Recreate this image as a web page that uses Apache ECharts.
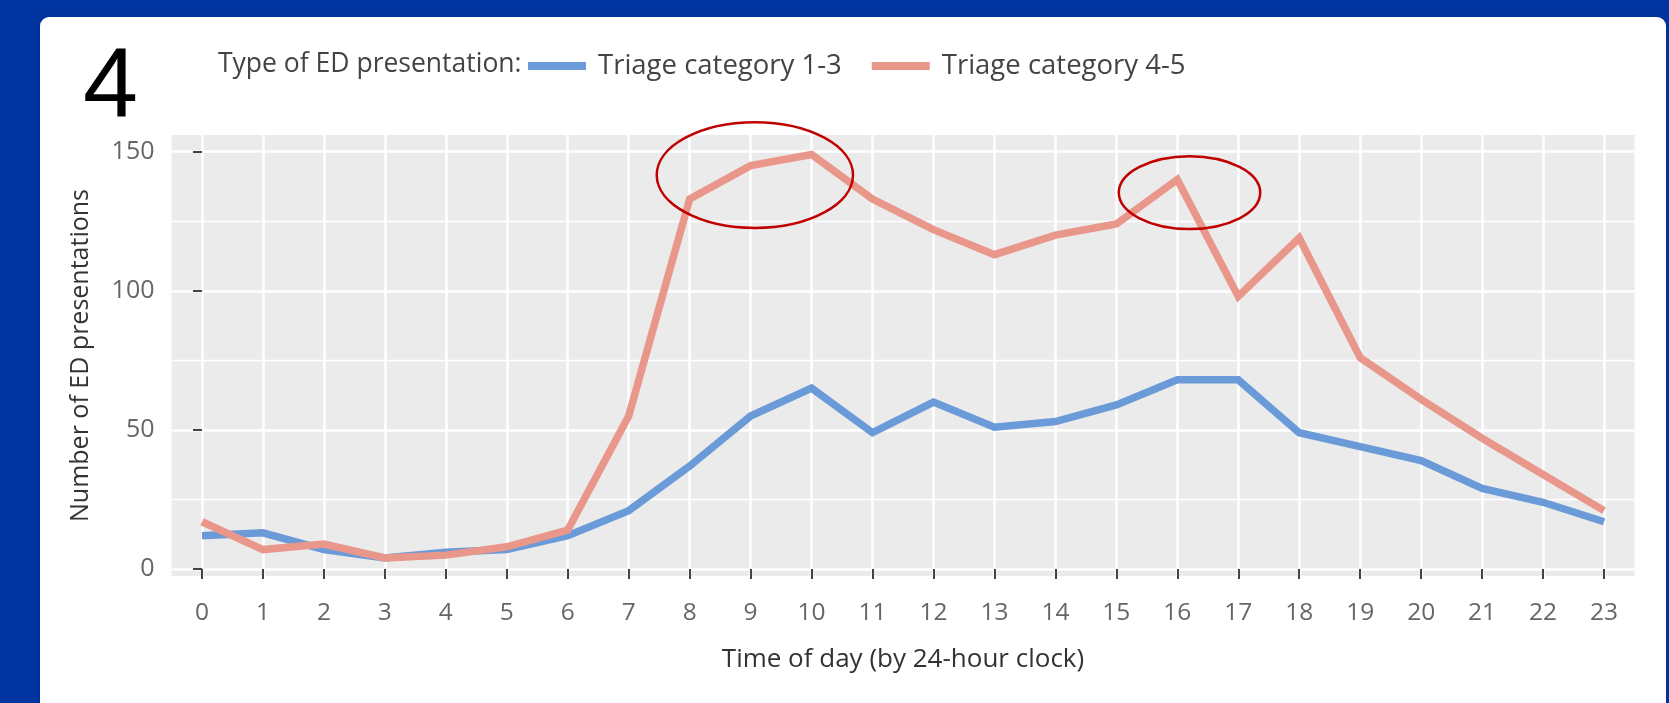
<!DOCTYPE html>
<html><head><meta charset="utf-8">
<script src="https://cdn.jsdelivr.net/npm/echarts@6/dist/echarts.min.js"></script>
<style>
html,body{margin:0;padding:0;background:#0034a0;width:1669px;height:703px;overflow:hidden;}
#card{position:absolute;left:40px;top:17px;width:1626px;height:700px;background:#fff;border-radius:9px;box-shadow:0 0 3px rgba(0,0,0,0.15);}
#chart{position:absolute;left:0;top:0;width:1669px;height:703px;}
</style></head><body>
<div id="card"></div><div id="chart"></div>
<script>
const hours = [0,1,2,3,4,5,6,7,8,9,10,11,12,13,14,15,16,17,18,19,20,21,22,23];
const triage13 = [12,13,7,4,6,7,12,21,37,55,65,49,60,51,53,59,68,68,49,44,39,29,24,17];
const triage45 = [17,7,9,4,5,8,14,55,133,145,149,133,122,113,120,124,140,98,119,76,61,47,34,21];
const yTicks = [0,50,100,150];
const yMinorTicks = [25,75,125];
const seriesNames = ['Triage category 1-3','Triage category 4-5'];
const legendTitle = 'Type of ED presentation:';
const panelLabel = '4';
const xTitle = 'Time of day (by 24-hour clock)';
const yTitle = 'Number of ED presentations';
// annotation ellipses in data units: [centerHour, centerValue, radiusHours, radiusValue]
const highlights = [[9.07,141.6,1.61,19.0],[16.2,135.3,1.16,13.1]];

const FONT = 'Open Sans';
const chart = echarts.init(document.getElementById('chart'), null, {renderer:'canvas'});
const colors = ['#6a9bd8','#e9968b'];
const option = {
  animation:false,
  backgroundColor:'transparent',
  title:[{text:legendTitle,left:218,top:51,padding:0,textStyle:{fontFamily:FONT,fontSize:26.5,fontWeight:'normal',color:'#444'}}],
  legend:{left:528,top:52,padding:0,itemWidth:58,itemHeight:8,itemGap:30,icon:'rect',
    data:seriesNames,textStyle:{fontFamily:FONT,fontSize:27.5,color:'#444',padding:[0,0,0,7]}},
  grid:{left:171.5,right:34.5,top:135,bottom:127,show:true,backgroundColor:'#ebebeb',borderWidth:0},
  xAxis:{type:'value',min:-0.5,max:23.5,
    axisLine:{show:false},
    axisTick:{show:true,customValues:hours,length:10,lineStyle:{color:'#444',width:2}},
    axisLabel:{customValues:hours,margin:25,fontFamily:FONT,fontSize:24.5,color:'#666'},
    splitLine:{show:true,lineStyle:{color:'#fff',width:2.5}},
    name:xTitle,nameLocation:'middle',nameGap:71,
    nameTextStyle:{fontFamily:FONT,fontSize:26,color:'#333'}},
  yAxis:[{type:'value',min:-2.5,max:156,
    axisLine:{show:false},
    axisTick:{show:true,customValues:yTicks,length:9,lineStyle:{color:'#444',width:2}},
    axisLabel:{customValues:yTicks,margin:17,fontFamily:FONT,fontSize:25,color:'#666'},
    splitLine:{show:true,lineStyle:{color:'#fff',width:2.5}},
    name:yTitle,nameLocation:'middle',nameGap:78,
    nameTextStyle:{fontFamily:FONT,fontSize:25,color:'#333'}},
   {type:'value',min:-2.5,max:156,
    axisLine:{show:false},axisLabel:{show:false},
    axisTick:{show:false,customValues:yMinorTicks},
    splitLine:{show:true,lineStyle:{color:'#fff',width:1.3}}}],
  series:[
    {name:seriesNames[0],type:'line',showSymbol:false,color:colors[0],
     lineStyle:{width:7.5,color:colors[0],join:'miter'},data:hours.map((h,i)=>[h,triage13[i]])},
    {name:seriesNames[1],type:'line',showSymbol:false,color:colors[1],
     lineStyle:{width:7.5,color:colors[1],join:'miter'},data:hours.map((h,i)=>[h,triage45[i]])}
  ]
};
chart.setOption(option);
const g = [{type:'text',left:83,top:39,style:{text:panelLabel,fontSize:99,fontFamily:'Liberation Sans',fill:'#000'}}];
highlights.forEach(h=>{
  const c = chart.convertToPixel({gridIndex:0},[h[0],h[1]]);
  const e = chart.convertToPixel({gridIndex:0},[h[0]+h[2],h[1]+h[3]]);
  g.push({type:'ellipse',z:100,shape:{cx:c[0],cy:c[1],rx:Math.abs(e[0]-c[0]),ry:Math.abs(e[1]-c[1])},
    style:{fill:null,stroke:'#c00000',lineWidth:2.5}});
});
chart.setOption({graphic:g});
</script></body></html>
